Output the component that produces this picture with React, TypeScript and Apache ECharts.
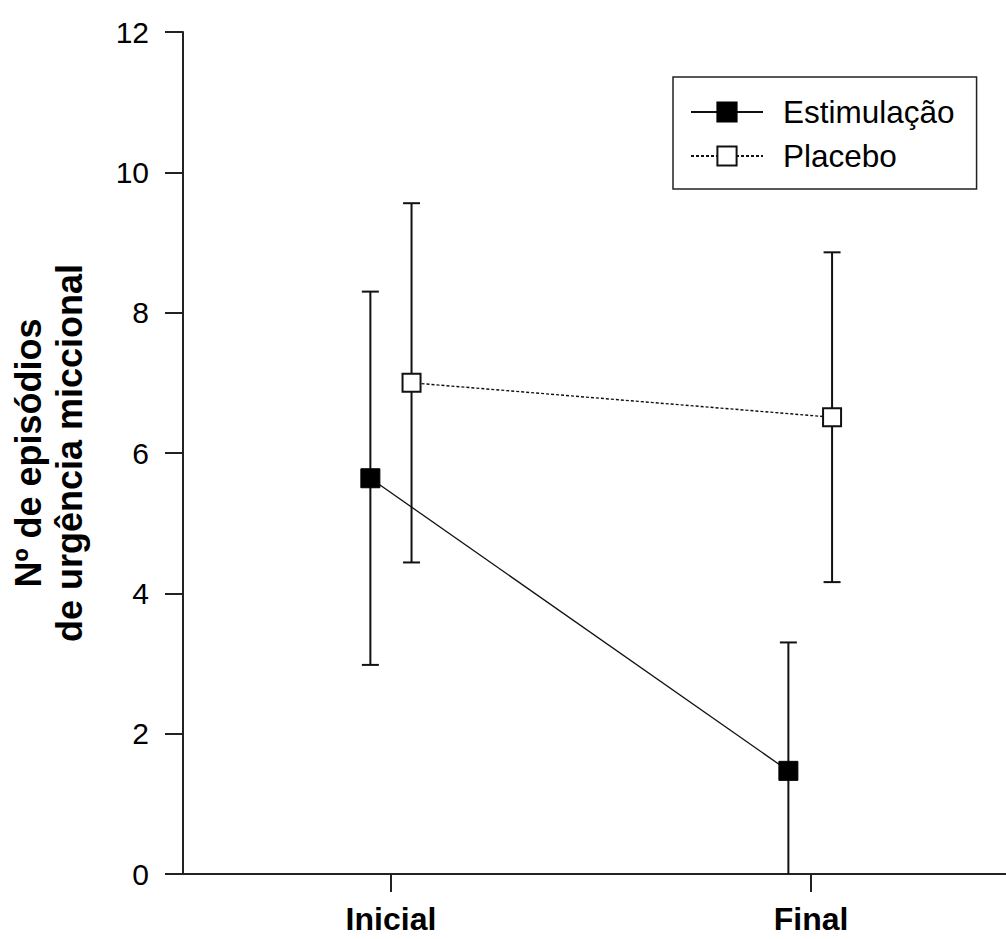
import React, { useEffect, useRef } from "react";
import * as echarts from "echarts";

const categories = ["Inicial", "Final"];
const seriesNames = ["Estimulação", "Placebo"];
const estimMean = [5.64, 1.47];
const estimSD = [2.66, 1.83];
const placeboMean = [7.0, 6.51];
const placeboSD = [2.56, 2.35];
const yTicks = [0, 2, 4, 6, 8, 10, 12];

const ESTIM_OFFSET = [-0.049, -0.054];
const PLACEBO_OFFSET = [0.049, 0.05];

const FONT = "'Liberation Sans', Arial, Helvetica, sans-serif";

function points(mean: number[], offs: number[]) {
  return mean.map((m, i) => [i + 1 + offs[i], m]);
}
function errData(mean: number[], sd: number[], offs: number[]) {
  return mean.map((m, i) => [i + 1 + offs[i], m - sd[i], m + sd[i]]);
}

const renderErr = (params: any, api: any) => {
  const x = api.value(0);
  const lo = api.coord([x, api.value(1)]);
  const hi = api.coord([x, api.value(2)]);
  const cap = 8.5;
  const style = { stroke: "#111", lineWidth: 2 };
  return {
    type: "group",
    children: [
      { type: "line", shape: { x1: lo[0], y1: lo[1], x2: hi[0], y2: hi[1] }, style },
      { type: "line", shape: { x1: hi[0] - cap, y1: hi[1], x2: hi[0] + cap, y2: hi[1] }, style },
      { type: "line", shape: { x1: lo[0] - cap, y1: lo[1], x2: lo[0] + cap, y2: lo[1] }, style },
    ],
  };
};

export default function App() {
  const ref = useRef<HTMLDivElement>(null);
  useEffect(() => {
    document.body.style.margin = "0";
    if (!ref.current) return;
    const chart = echarts.init(ref.current, null, { renderer: "svg" });
    chart.setOption({
      animation: false,
      backgroundColor: "#fff",
      grid: { left: 183, top: 32, width: 823, height: 842, containLabel: false },
      legend: {
        left: 673,
        top: 77,
        orient: "vertical",
        data: seriesNames,
        itemWidth: 72,
        itemHeight: 24,
        itemGap: 12,
        borderColor: "#222",
        borderWidth: 1.5,
        borderRadius: 0,
        padding: [19, 22, 17, 17],
        textStyle: { fontFamily: FONT, fontSize: 31.5, color: "#000", padding: [0, 0, 0, 15] },
        selectedMode: false,
      },
      xAxis: {
        type: "value",
        min: 0.505,
        max: 2.464,
        splitLine: { show: false },
        axisLine: { show: true, onZero: false, lineStyle: { color: "#222", width: 2 } },
        axisTick: { show: true, length: 18, customValues: [1, 2], lineStyle: { color: "#222", width: 2 } },
        axisLabel: {
          customValues: [1, 2],
          formatter: (v: number) => categories[Math.round(v) - 1] ?? "",
          margin: 28,
          fontFamily: "'Liberation Sans Narrow', 'Arial Narrow', " + FONT,
          fontWeight: "bold",
          fontSize: 32,
          lineHeight: 34,
          color: "#000",
        },
      },
      yAxis: {
        type: "value",
        min: 0,
        max: 12,
        interval: 2,
        splitLine: { show: false },
        axisLine: { show: true, lineStyle: { color: "#222", width: 2 } },
        axisTick: { show: true, length: 18, lineStyle: { color: "#222", width: 2 } },
        axisLabel: {
          margin: 34,
          fontFamily: FONT,
          fontSize: 30,
          color: "#000",
          formatter: (v: number) => (yTicks.includes(v) ? String(v) : ""),
        },
        name: "Nº de episódios\nde urgência miccional",
        nameLocation: "middle",
        nameGap: 93,
        nameTextStyle: {
          fontFamily: FONT,
          fontWeight: "bold",
          fontSize: 36,
          lineHeight: 41,
          color: "#000",
        },
      },
      series: [
        {
          name: "err1",
          type: "custom",
          renderItem: renderErr,
          data: errData(estimMean, estimSD, ESTIM_OFFSET),
          clip: true,
          z: 1,
          silent: true,
        },
        {
          name: "err2",
          type: "custom",
          renderItem: renderErr,
          data: errData(placeboMean, placeboSD, PLACEBO_OFFSET),
          clip: true,
          z: 1,
          silent: true,
        },
        {
          name: seriesNames[0],
          type: "line",
          data: points(estimMean, ESTIM_OFFSET),
          symbol: "rect",
          symbolSize: 19,
          showAllSymbol: true,
          lineStyle: { color: "#111", width: 1.3, type: "solid" },
          itemStyle: { color: "#000", borderColor: "#000", borderWidth: 1 },
          z: 5,
        },
        {
          name: seriesNames[1],
          type: "line",
          data: points(placeboMean, PLACEBO_OFFSET),
          symbol: "rect",
          symbolSize: 18,
          showAllSymbol: true,
          lineStyle: { color: "#111", width: 1.4, type: [3, 2] },
          itemStyle: { color: "#fff", borderColor: "#111", borderWidth: 2 },
          z: 5,
        },
      ],
    });
    return () => chart.dispose();
  }, []);
  return (
    <div
      ref={ref}
      style={{ position: "fixed", left: 0, top: 0, width: 1006, height: 939, background: "#fff" }}
    />
  );
}
